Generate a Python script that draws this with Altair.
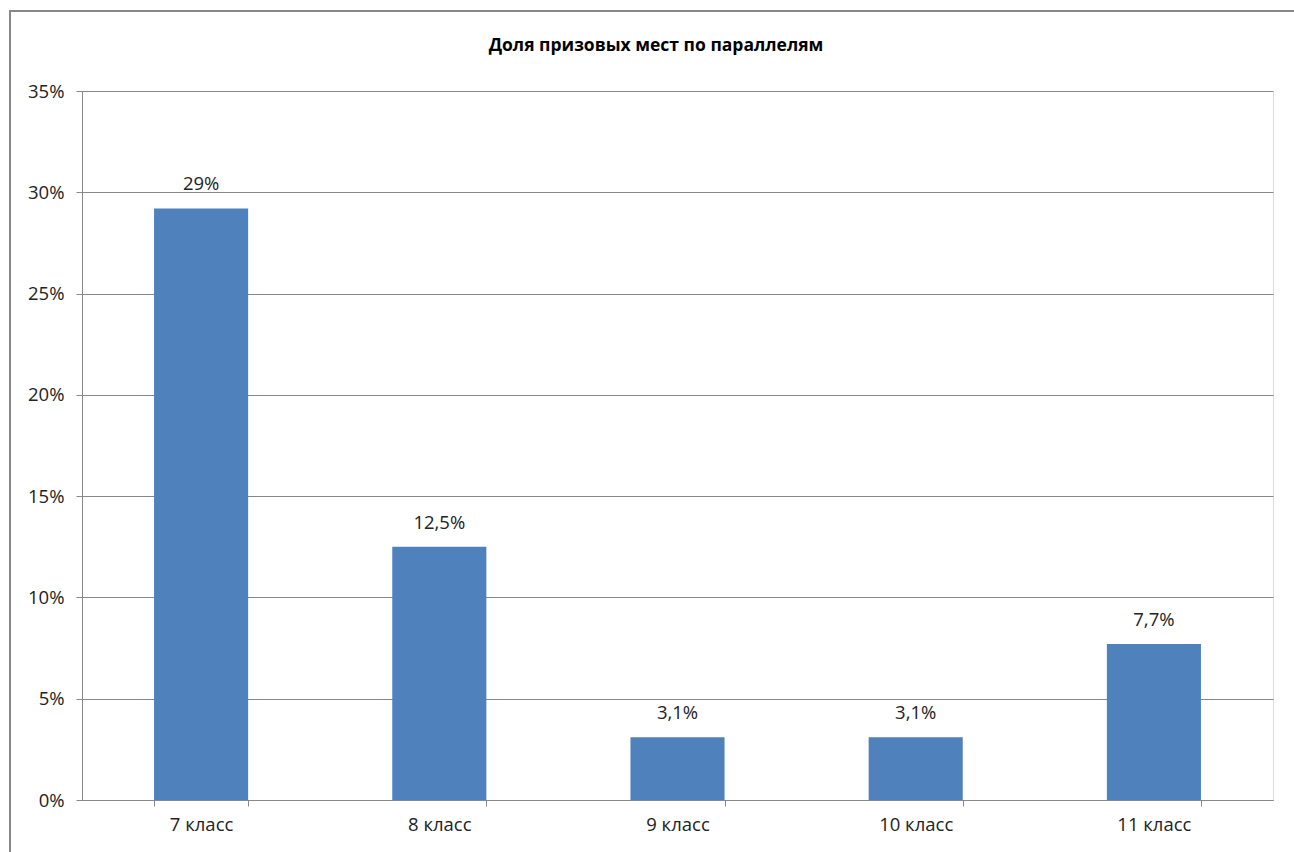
import altair as alt
import pandas as pd

categories = ["7 класс", "8 класс", "9 класс", "10 класс", "11 класс"]
values = [0.292, 0.125, 0.031, 0.031, 0.077]
labels = ["29%", "12,5%", "3,1%", "3,1%", "7,7%"]
title_text = "Доля призовых мест по параллелям"

df = pd.DataFrame({"cat": categories, "val": values, "lab": labels})

FONT = "Open Sans"
FS = 18.5

x = alt.X("cat:N", sort=categories, title=None,
          scale=alt.Scale(paddingInner=0.605, paddingOuter=0.3025),
          axis=alt.Axis(labelAngle=0, tickBand="extent", grid=False, labelFont=FONT,
                        labelFontSize=FS, labelColor="#222222", domainColor="#888888",
                        tickColor="#888888", tickSize=6, labelPadding=9))
y = alt.Y("val:Q", title=None,
          scale=alt.Scale(domain=[0, 0.35], nice=False),
          axis=alt.Axis(values=[0, 0.05, 0.1, 0.15, 0.2, 0.25, 0.3, 0.35], format=".0%",
                        labelFont=FONT, labelFontSize=FS, labelColor="#222222",
                        domainColor="#888888", tickColor="#888888", tickSize=6,
                        gridColor="#888888", gridWidth=1, labelPadding=12))

bars = alt.Chart(df).mark_bar(color="#4F81BD").encode(x=x, y=y)
text = alt.Chart(df).mark_text(baseline="bottom", dy=-14, font=FONT, fontSize=FS,
                               color="#222222").encode(x=x, y=y, text="lab:N")

frame = alt.Chart(pd.DataFrame({"t": [0]})).mark_rect(
    fill="transparent", stroke="#888888", strokeWidth=2).encode(
    x=alt.value(-72), x2=alt.value(1300), y=alt.value(-80), y2=alt.value(900))

title = alt.Chart(pd.DataFrame({"t": [title_text]})).mark_text(
    font=FONT, fontSize=17.5, fontWeight="bold", color="#000000", baseline="middle",
    align="center").encode(x=alt.value(574), y=alt.value(-45), text="t:N")

chart = alt.layer(frame, bars, text, title).properties(
    width=1191, height=709,
    autosize=alt.AutoSizeParams(type="none"),
    padding={"left": 82, "top": 91, "right": 21, "bottom": 52},
).configure_view(strokeOpacity=0, strokeWidth=0).configure(background="white")

chart.save("out.html", embed_options={"renderer": "svg", "actions": False})
